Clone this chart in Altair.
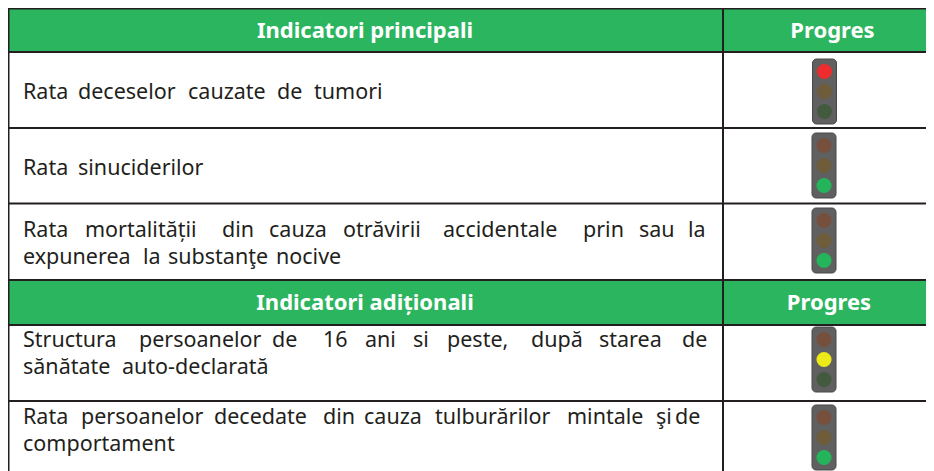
import altair as alt
import pandas as pd

FONT = "Noto Sans"
INK = "#231f20"
GREEN = "#2cb55f"

# Table content: every body line is held as its words, because the source sets them justified
header_labels = ["Indicatori principali", "Progres", "Indicatori adiționali", "Progres"]
line_words = [
    ["Rata", "deceselor", "cauzate", "de", "tumori"],
    ["Rata", "sinuciderilor"],
    ["Rata", "mortalității", "din", "cauza", "otrăvirii", "accidentale", "prin", "sau", "la"],
    ["expunerea", "la", "substanţe", "nocive"],
    ["Structura", "persoanelor", "de", "16", "ani", "si", "peste,", "după", "starea", "de"],
    ["sănătate", "auto-declarată"],
    ["Rata", "persoanelor", "decedate", "din", "cauza", "tulburărilor", "mintale", "şi", "de"],
    ["comportament"],
]
active_light = ["red", "green", "green", "yellow", "green"]

# Layout (page pixels)
hdr_x = [365, 832.5, 365, 829]
hdr_y = [38, 38, 310, 310]
line_x = [
    [23, 78, 188, 277, 314],
    [23, 78],
    [23, 85, 222, 269, 343, 443, 583, 639, 688],
    [23, 143, 168, 276],
    [23, 139, 272, 323, 365, 413, 447, 531, 599, 682],
    [23, 122],
    [23, 81, 214, 323, 364, 435, 567, 656, 675],
    [23],
]
line_y = [99, 175, 237, 264, 347, 374, 424, 451]
band_top = [8, 280]
band_bottom = [52, 325]
row_lines = [8.5, 52, 128, 203.5, 280, 325, 401]
light_top = [59, 133, 208, 327, 405]
light_cx = [824.5, 824, 824, 824, 824]
L, DIV, R, B = 8.5, 723, 926, 471

x_s = alt.Scale(domain=[8, 926], range=[0, 918])
y_s = alt.Scale(domain=[8, 471], range=[0, 463])
X = lambda f="x": alt.X(f"{f}:Q", scale=x_s, axis=None)
Y = lambda f="y": alt.Y(f"{f}:Q", scale=y_s, axis=None)

bands = alt.Chart(pd.DataFrame({"y": band_top, "y2": band_bottom, "x": [L] * 2, "x2": [R] * 2})).mark_rect(
    color=GREEN).encode(x=X(), x2="x2:Q", y=Y(), y2="y2:Q")

hlines = alt.Chart(pd.DataFrame({"y": row_lines, "x": [L] * len(row_lines), "x2": [R] * len(row_lines)})).mark_rule(
    color=INK, strokeWidth=2).encode(x=X(), x2="x2:Q", y=Y())

vlines = alt.Chart(pd.DataFrame({"x": [L, DIV], "y": [8, 8], "y2": [B, B]})).mark_rule(
    color=INK, strokeWidth=2).encode(x=X(), y=Y(), y2="y2:Q")

headers = alt.Chart(pd.DataFrame({"t": header_labels, "x": hdr_x, "y": hdr_y})).mark_text(
    font=FONT, fontSize=22, fontWeight="bold", color="white", align="center", baseline="alphabetic"
).encode(x=X(), y=Y(), text="t:N")

rows = []
for words, xs, y in zip(line_words, line_x, line_y):
    rows += [{"t": w, "x": x, "y": y} for w, x in zip(words, xs)]
body = alt.Chart(pd.DataFrame(rows)).mark_text(
    font=FONT, fontSize=21.5, color=INK, align="left", baseline="alphabetic"
).encode(x=X(), y=Y(), text="t:N")

housing_df = pd.DataFrame({"x": [c - 12 for c in light_cx], "x2": [c + 12 for c in light_cx],
                           "y": light_top, "y2": [t + 65 for t in light_top]})
housing = alt.Chart(housing_df).mark_rect(
    color="#606060", stroke="#48484a", strokeWidth=1, cornerRadius=4
).encode(x=X(), x2="x2:Q", y=Y(), y2="y2:Q")

ON = {"red": "#ee2c2e", "yellow": "#eeea1a", "green": "#24b45a"}
OFF = {"red": "#774f3d", "yellow": "#6e5c3a", "green": "#445a3e"}
lights = []
for top, cx, active in zip(light_top, light_cx, active_light):
    for name, dy in zip(["red", "yellow", "green"], [12.5, 32.5, 52.5]):
        lights.append({"x": cx, "y": top + dy, "c": ON[name] if name == active else OFF[name]})
bulbs = alt.Chart(pd.DataFrame(lights)).mark_circle(size=227, opacity=1).encode(
    x=X(), y=Y(), color=alt.Color("c:N", scale=None))

chart = alt.layer(
    bands, hlines, vlines, headers, body, housing, bulbs
).properties(width=918, height=463, padding=0, autosize=alt.AutoSizeParams(type="none")).configure_view(stroke=None)

chart.save("out.html", embed_options={"renderer": "svg", "actions": False})
